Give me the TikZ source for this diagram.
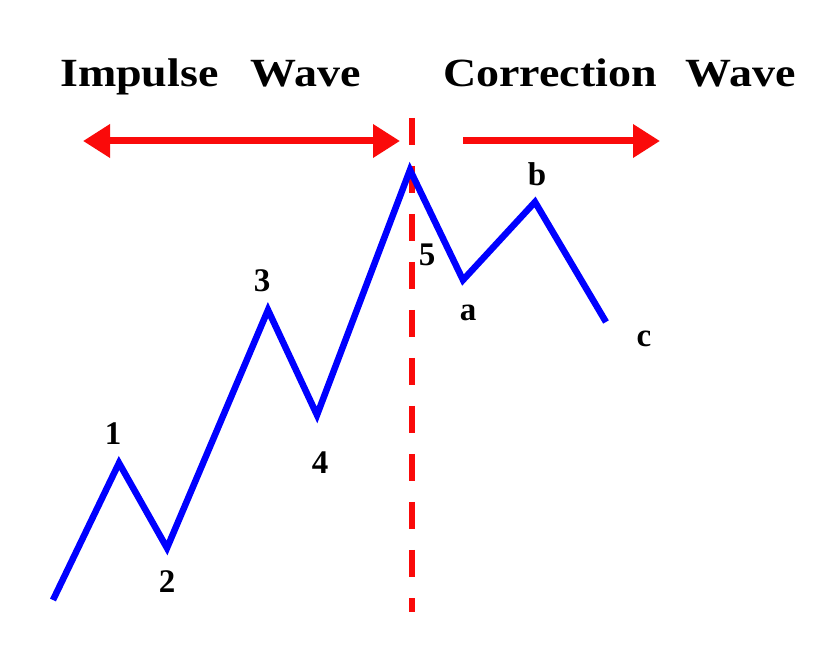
\documentclass[tikz,border=0pt]{standalone}
\usepackage{fontspec}
\setmainfont{Liberation Serif}
\usetikzlibrary{arrows.meta}
\definecolor{wblue}{RGB}{0,0,255}
\definecolor{wred}{RGB}{250,10,10}
\begin{document}
\begin{tikzpicture}[x=1pt,y=-1pt,
  wave/.style={draw=wblue,line width=6.5pt,line join=miter,miter limit=4},
  title/.style={font=\fontsize{40}{44}\selectfont\bfseries,inner sep=0pt,anchor=base west},
  lbl/.style={font=\fontsize{33}{36}\selectfont\bfseries,inner sep=0pt},
  redarrow/.style={draw=wred,line width=7pt,-{Triangle[length=27pt,width=32pt]}},
  divider/.style={draw=wred,line width=6.5pt,dash pattern=on 27pt off 21pt}]
\fill[white] (0,0) rectangle (823,668);
\useasboundingbox (0,0) rectangle (823,668);
% titles
\node[title] (imp) at (60,87) {\scalebox{1.15}[1]{Impulse\hspace{28pt}Wave}};
\node[title] (cor) at (443,87) {\scalebox{1.15}[1]{Correction\hspace{25pt}Wave}};
% arrows
\coordinate (iL) at (83,141);
\coordinate (iR) at (400,141);
\coordinate (iM) at (240,141);
\draw[redarrow] (iM) -- (iL);
\draw[redarrow] (iM) -- (iR);
\coordinate (cL) at (463,141);
\coordinate (cR) at (660,141);
\draw[redarrow] (cL) -- (cR);
% divider
\coordinate (dT) at (412,118);
\coordinate (dB) at (412,612);
\draw[divider] (dT) -- (dB);
% wave points
\coordinate (p0) at (53,600);
\coordinate (p1) at (119,463);
\coordinate (p2) at (167,548);
\coordinate (p3) at (268,310);
\coordinate (p4) at (317,415);
\coordinate (p5) at (410,170);
\coordinate (pa) at (463,280);
\coordinate (pb) at (535,202);
\coordinate (pc) at (606,322);
\draw[wave] (p0) -- (p1) -- (p2) -- (p3) -- (p4) -- (p5) -- (pa) -- (pb) -- (pc);
% labels
\node[lbl] (l1) at (113,434) {1};
\node[lbl] (l2) at (167,582) {2};
\node[lbl] (l3) at (262,281) {3};
\node[lbl] (l4) at (320,463) {4};
\node[lbl] (l5) at (427,255) {5};
\node[lbl] (la) at (468,313) {a};
\node[lbl] (lb) at (537,174) {b};
\node[lbl] (lc) at (644,339) {c};
\end{tikzpicture}
\end{document}
